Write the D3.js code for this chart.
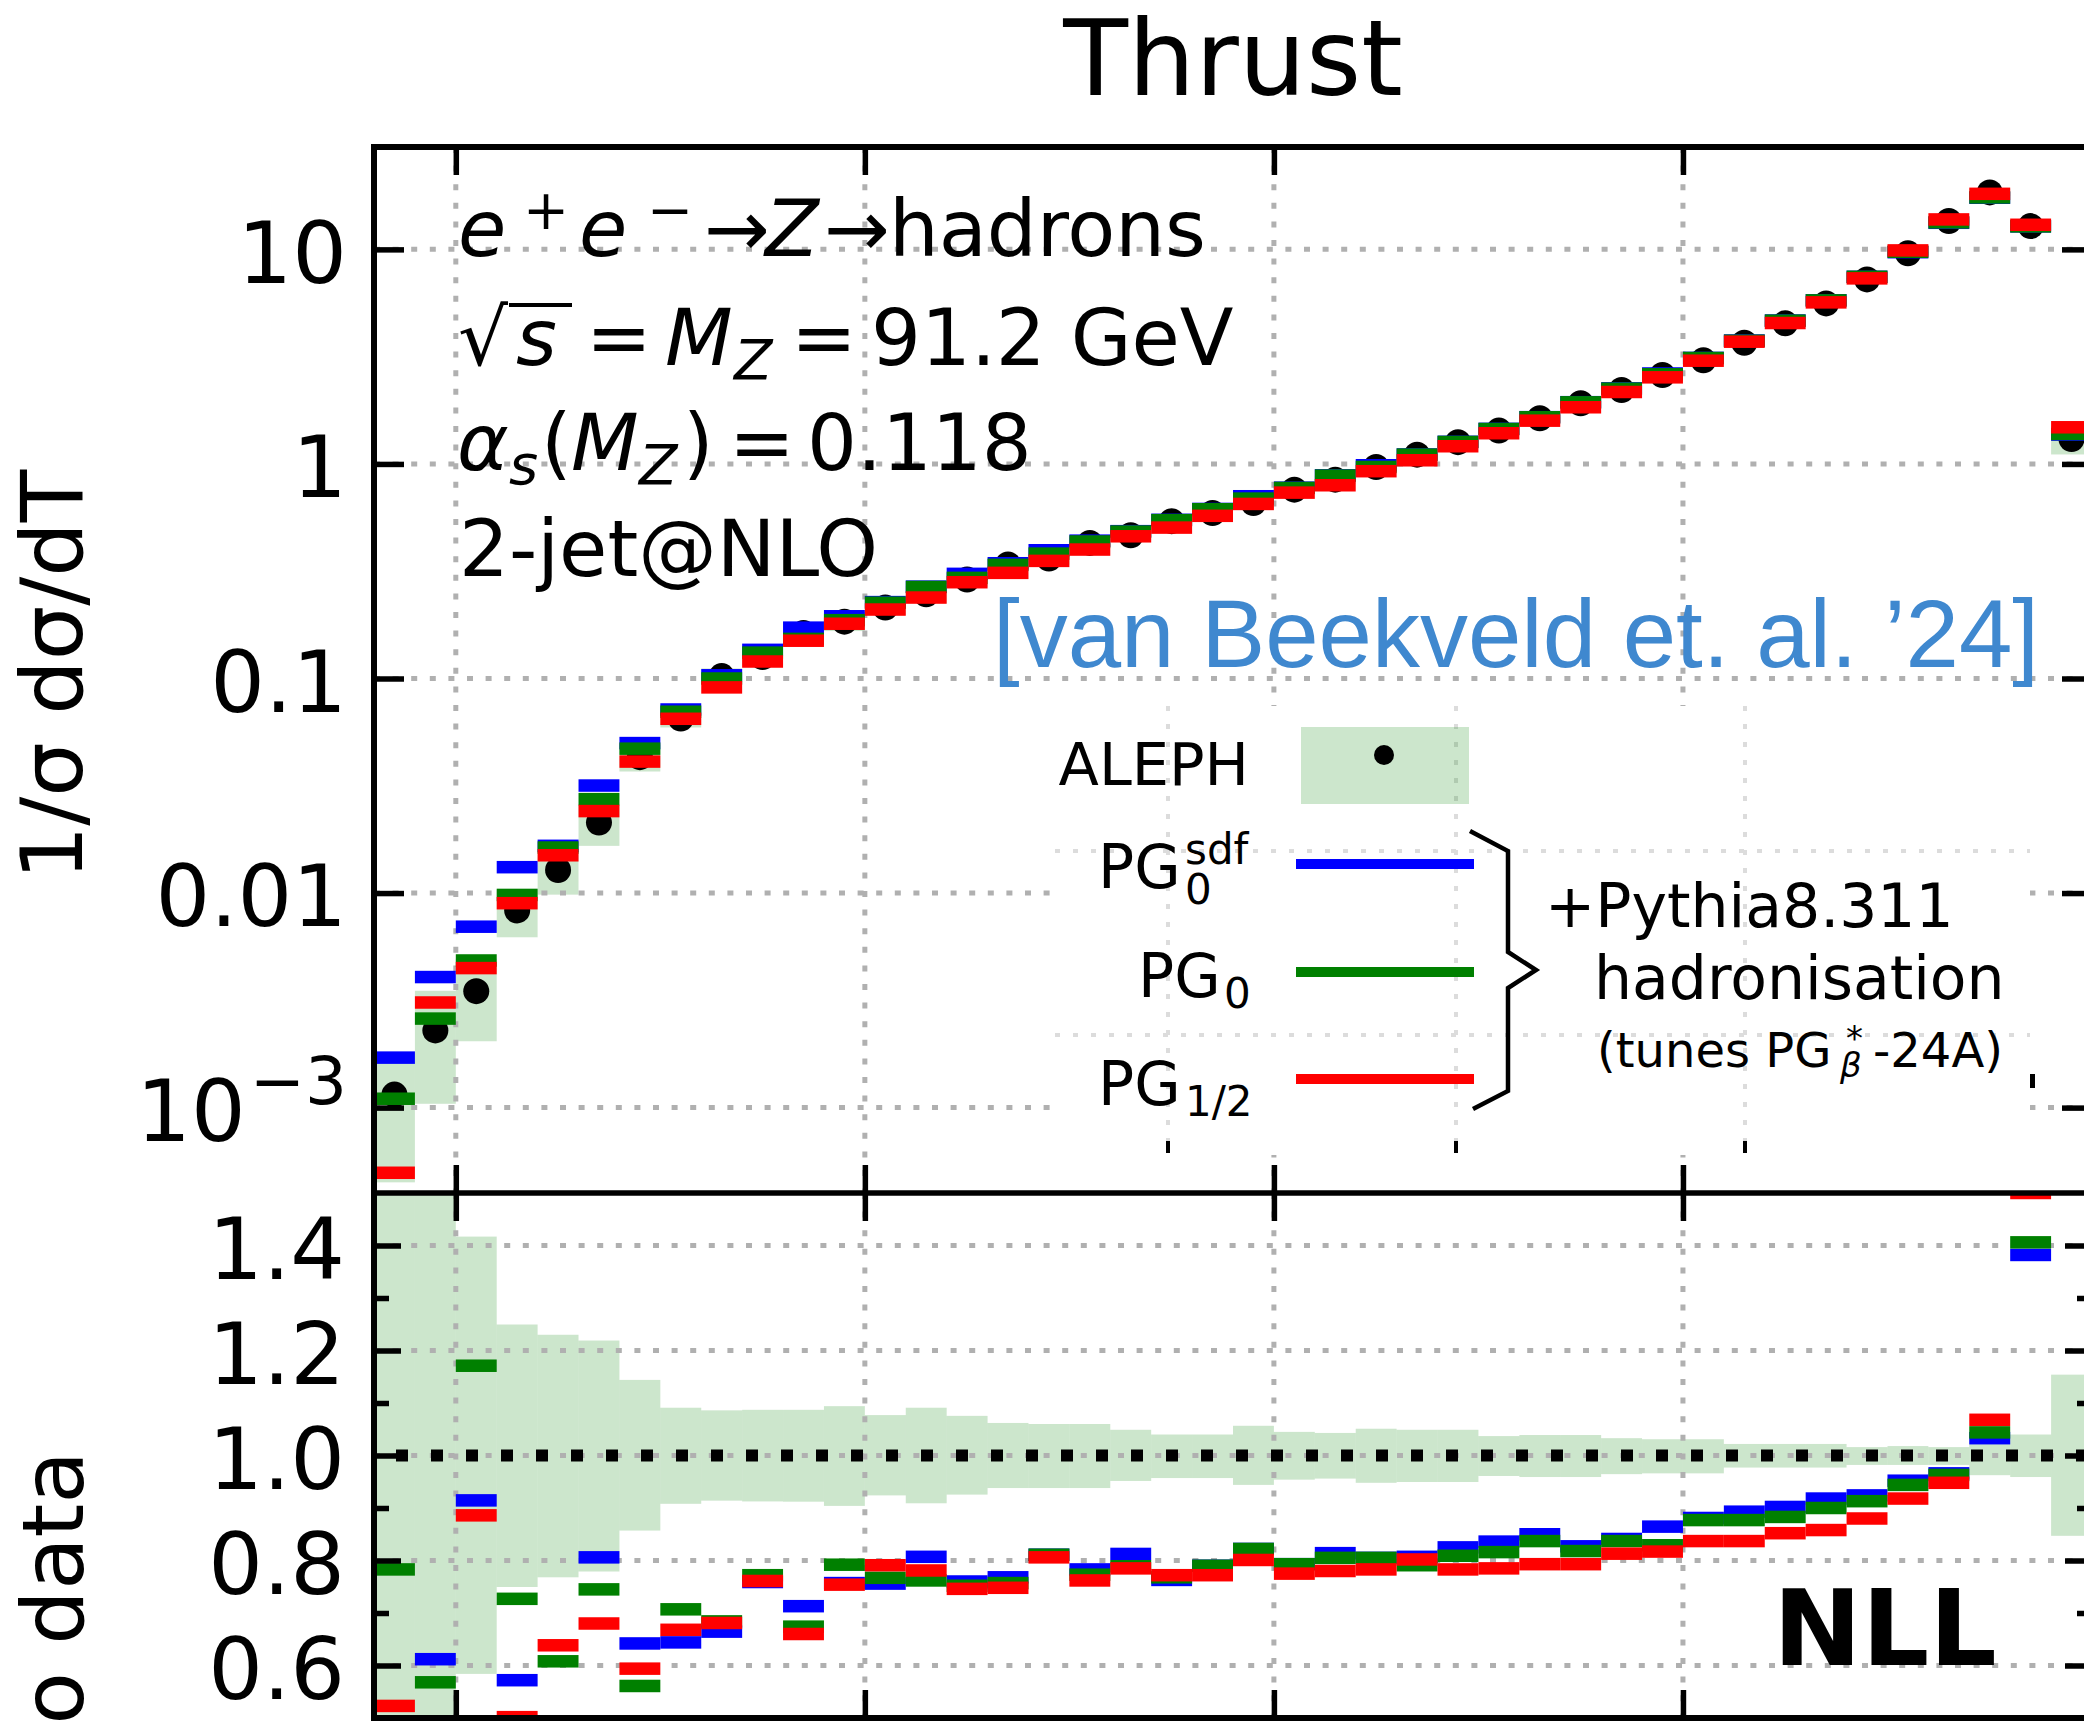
<!DOCTYPE html>
<html>
<head>
<meta charset="utf-8">
<script src="https://cdn.jsdelivr.net/npm/d3@7"></script>
<style>
  body { margin: 0; background: #fff; }
  svg { display: block; }
  text { font-family: "DejaVu Sans", sans-serif; }
</style>
</head>
<body>
<div id="chart"></div>
<script>
var W = 2084, H = 1726;

// thrust bins, width 0.01
var binEdges = [0.58,0.59,0.60,0.61,0.62,0.63,0.64,0.65,0.66,0.67,0.68,0.69,0.70,0.71,0.72,0.73,0.74,0.75,0.76,0.77,0.78,
  0.79,0.80,0.81,0.82,0.83,0.84,0.85,0.86,0.87,0.88,0.89,0.90,0.91,0.92,0.93,0.94,0.95,0.96,0.97,0.98,0.99,1.00];

// ALEPH data, 1/sigma dsigma/dT
var alephVal = [1.15e-3,2.29e-3,3.49e-3,8.3e-3,1.28e-2,2.13e-2,4.30e-2,6.51e-2,0.1026,0.1258,0.163,0.184,0.214,0.247,
  0.289,0.340,0.362,0.4285,0.4655,0.541,0.591,0.658,0.759,0.845,0.968,1.105,1.263,1.43,1.632,1.917,2.211,2.598,3.04,
  3.673,4.52,5.60,7.245,9.58,13.55,18.43,12.84,1.307];
// relative uncertainty band (upper / lower edge, as ratio to data)
var alephErrHi = [1.57,1.53,1.417,1.2495,1.230,1.219,1.144,1.091,1.086,1.087,1.087,1.094,1.077,1.091,1.0755,1.062,
  1.060,1.060,1.049,1.040,1.040,1.0566,1.045,1.043,1.051,1.049,1.049,1.037,1.039,1.039,1.033,1.031,1.031,1.022,1.022,
  1.022,1.016,1.018,1.016,1.040,1.040,1.154];
var alephErrLo = [0.39,0.455,0.584,0.7495,0.768,0.779,0.857,0.908,0.914,0.9125,0.912,0.904,0.924,0.909,0.9255,0.938,
  0.938,0.938,0.9515,0.957,0.957,0.944,0.954,0.956,0.948,0.9495,0.9495,0.961,0.959,0.959,0.9645,0.966,0.966,0.977,
  0.977,0.977,0.982,0.982,0.982,0.9625,0.959,0.847];

// 2-jet@NLO + Pythia hadronisation, upper panel
var pgSdf = [1.71e-3,4.06e-3,6.97e-3,1.32e-2,1.66e-2,3.17e-2,5.0e-2,7.17e-2,0.1035,0.136,0.1726,0.195,0.227,0.268,
  0.3074,0.3445,0.396,0.439,0.486,0.549,0.617,0.707,0.775,0.885,0.986,1.107,1.268,1.457,1.652,1.94,2.25,2.64,3.12,
  3.76,4.66,5.79,7.45,9.70,13.3,17.4,12.8,1.37];
var pg0 = [1.10e-3,2.60e-3,4.85e-3,9.8e-3,1.63e-2,2.74e-2,4.71e-2,7.0e-2,0.100,0.132,0.153,0.187,0.2255,0.267,0.2944,
  0.3386,0.382,0.435,0.484,0.547,0.615,0.6895,0.773,0.8825,0.968,1.105,1.266,1.455,1.650,1.937,2.243,2.617,3.117,
  3.75,4.652,5.784,7.45,9.75,13.36,17.46,12.8,1.379];
var pgHalf = [4.97e-4,3.09e-3,4.47e-3,8.97e-3,1.50e-2,2.41e-2,4.10e-2,6.49e-2,9.09e-2,0.120,0.150,0.180,0.2096,0.2384,
  0.281,0.3107,0.3533,0.399,0.460,0.505,0.573,0.651,0.735,0.7955,0.925,1.04,1.209,1.39,1.591,1.837,2.164,2.533,3.028,
  3.713,4.537,5.662,7.325,9.89,13.79,18.15,13.02,1.482];

// NLL ratio to data, lower panel (null = outside the panel)
var ratioSdf = [null,0.612,0.9145,0.572,null,0.806,0.642,0.644,0.6645,0.759,0.713,0.757,0.756,0.807,0.760,0.768,0.811,
  0.783,0.8125,0.763,0.79,0.822,0.793,0.814,0.805,0.807,0.825,0.836,0.850,0.827,0.841,0.8645,0.881,0.893,0.902,0.918,
  0.924,0.952,0.966,1.033,1.382,null];
var ratioPg0 = [0.783,0.568,1.171,0.727,0.608,0.745,0.561,0.707,0.684,0.772,0.674,0.792,0.767,0.762,0.752,0.757,0.811,
  0.773,0.789,0.768,0.790,0.822,0.793,0.805,0.805,0.791,0.809,0.816,0.837,0.818,0.837,0.829,0.877,0.877,0.883,0.900,
  0.913,0.944,0.963,1.044,1.406,null];
var ratioHalf = [0.523,null,0.886,0.5016,0.6385,0.680,0.594,0.668,0.681,0.761,0.660,0.754,0.791,0.781,0.746,0.748,0.806,
  0.762,0.785,0.772,0.772,0.801,0.775,0.780,0.783,0.802,0.783,0.785,0.793,0.793,0.813,0.817,0.837,0.837,0.852,0.858,
  0.880,0.918,0.948,1.068,1.50,null];

var xTicks = [0.6, 0.7, 0.8, 0.9, 1.0];
var yTicksTop = [1e-3, 1e-2, 0.1, 1, 10];
var yTickLabelsTop = ["10^−3", "0.01", "0.1", "1", "10"];
var rTicks = [0.6, 0.8, 1.0, 1.2, 1.4];
var rMinorTicks = [0.7, 0.9, 1.1, 1.3];

var colors = { sdf: "#0000ff", pg0: "#008000", half: "#ff0000", band: "#008000", grid: "#b0b0b0", cite: "#3f88cf" };

var plotL = 374, plotR = 2092, topT = 147, topB = 1193, ratB = 1718;

var x = d3.scaleLinear().domain([0.58, 1.0]).range([plotL, plotR]);
var yTop = d3.scaleLog().domain([4e-4, 30]).range([topB, topT]);
var yRat = d3.scaleLinear().domain([0.5, 1.5]).range([ratB, topB]);

var svg = d3.select("#chart").append("svg")
  .attr("width", W).attr("height", H)
  .attr("viewBox", "0 0 " + W + " " + H);

svg.append("rect").attr("width", W).attr("height", H).attr("fill", "#fff");

var defs = svg.append("defs");
defs.append("clipPath").attr("id", "clipTop").append("rect")
  .attr("x", plotL).attr("y", topT).attr("width", plotR - plotL).attr("height", topB - topT);
defs.append("clipPath").attr("id", "clipRat").append("rect")
  .attr("x", plotL).attr("y", topB).attr("width", plotR - plotL).attr("height", ratB - topB);

var bins = alephVal.map(function(v, i) {
  return { i: i, lo: binEdges[i], hi: binEdges[i + 1], v: v, eh: alephErrHi[i], el: alephErrLo[i] };
});

function gridLines(g, yScale, yVals, y0, y1) {
  g.selectAll(".hgrid").data(yVals).enter().append("line")
    .attr("x1", plotL).attr("x2", plotR)
    .attr("y1", function(d) { return yScale(d); }).attr("y2", function(d) { return yScale(d); })
    .attr("stroke", colors.grid).attr("stroke-width", 5).attr("stroke-dasharray", "6 12.6");
  g.selectAll(".vgrid").data(xTicks.slice(0, 4)).enter().append("line")
    .attr("x1", function(d) { return x(d); }).attr("x2", function(d) { return x(d); })
    .attr("y1", y0).attr("y2", y1)
    .attr("stroke", colors.grid).attr("stroke-width", 5).attr("stroke-dasharray", "6 12.6");
}

function steps(g, values, yScale, color) {
  g.selectAll(null).data(values.map(function(v, i) { return { i: i, v: v }; })
      .filter(function(d) { return d.v !== null; }))
    .enter().append("rect")
    .attr("x", function(d) { return x(binEdges[d.i]); })
    .attr("width", function(d) { return x(binEdges[d.i + 1]) - x(binEdges[d.i]); })
    .attr("y", function(d) { return yScale(d.v) - 6.25; })
    .attr("height", 12.5)
    .attr("fill", color);
}

// ---------- upper panel ----------
var topG = svg.append("g");
var topData = topG.append("g").attr("clip-path", "url(#clipTop)");

topData.selectAll(".band").data(bins).enter().append("rect")
  .attr("x", function(d) { return x(d.lo); })
  .attr("width", function(d) { return x(d.hi) - x(d.lo); })
  .attr("y", function(d) { return yTop(d.v * d.eh); })
  .attr("height", function(d) { return yTop(d.v * d.el) - yTop(d.v * d.eh); })
  .attr("fill", colors.band).attr("fill-opacity", 0.2);

gridLines(topData, yTop, yTicksTop, topT, topB);

// legend area hides the main grid
topG.append("rect").attr("x", 1052).attr("y", 706).attr("width", 978).attr("height", 449).attr("fill", "#fff");

topData.selectAll(".dot").data(bins).enter().append("circle")
  .attr("cx", function(d) { return x((d.lo + d.hi) / 2); })
  .attr("cy", function(d) { return yTop(d.v); })
  .attr("r", 13).attr("fill", "#000");

steps(topData, pgSdf, yTop, colors.sdf);
steps(topData, pg0, yTop, colors.pg0);
steps(topData, pgHalf, yTop, colors.half);

// ---------- ratio panel ----------
var ratG = svg.append("g");
var ratData = ratG.append("g").attr("clip-path", "url(#clipRat)");

ratData.selectAll(".band").data(bins).enter().append("rect")
  .attr("x", function(d) { return x(d.lo); })
  .attr("width", function(d) { return x(d.hi) - x(d.lo); })
  .attr("y", function(d) { return yRat(d.eh); })
  .attr("height", function(d) { return yRat(d.el) - yRat(d.eh); })
  .attr("fill", colors.band).attr("fill-opacity", 0.2);

gridLines(ratData, yRat, rTicks, topB, ratB);

ratData.append("line")
  .attr("x1", plotL).attr("x2", plotR).attr("y1", yRat(1)).attr("y2", yRat(1))
  .attr("stroke", "#000").attr("stroke-width", 12)
  .attr("stroke-dasharray", "12 23").attr("stroke-dashoffset", 13);

steps(ratData, ratioSdf, yRat, colors.sdf);
steps(ratData, ratioPg0, yRat, colors.pg0);
steps(ratData, ratioHalf, yRat, colors.half);

// ---------- axes ----------
function styleAxis(g, w) {
  g.select(".domain").remove();
  g.selectAll(".tick line").attr("stroke", "#000").attr("stroke-width", w);
  g.selectAll(".tick text").style("font-family", "DejaVu Sans").style("font-size", "86px").style("fill", "#000");
}

var axL = svg.append("g").attr("transform", "translate(" + plotL + ",0)")
  .call(d3.axisLeft(yTop).tickValues(yTicksTop).tickSize(-30).tickPadding(27)
    .tickFormat(function(d, i) { return yTickLabelsTop[i]; }));
styleAxis(axL, 5.5);
axL.selectAll(".tick text").attr("dy", "0.38em").each(function() {
  var t = d3.select(this), s = t.text();
  if (s.indexOf("^") >= 0) {
    var parts = s.split("^");
    t.text(null);
    t.append("tspan").text(parts[0]);
    t.append("tspan").style("font-size", "66px").attr("dx", 4).attr("dy", -37).text(parts[1]);
  }
});
var axR = svg.append("g").attr("transform", "translate(" + plotR + ",0)")
  .call(d3.axisRight(yTop).tickValues(yTicksTop).tickSize(-30).tickFormat(""));
styleAxis(axR, 5.5);

var axRL = svg.append("g").attr("transform", "translate(" + plotL + ",0)")
  .call(d3.axisLeft(yRat).tickValues(rTicks).tickSize(-27).tickPadding(29).tickFormat(d3.format(".1f")));
styleAxis(axRL, 5.5);
axRL.selectAll(".tick text").attr("dy", "0.38em");
var axRLm = svg.append("g").attr("transform", "translate(" + plotL + ",0)")
  .call(d3.axisLeft(yRat).tickValues(rMinorTicks).tickSize(-15).tickFormat(""));
styleAxis(axRLm, 5.5);
var axRR = svg.append("g").attr("transform", "translate(" + plotR + ",0)")
  .call(d3.axisRight(yRat).tickValues(rTicks).tickSize(-27).tickFormat(""));
styleAxis(axRR, 5.5);
var axRRm = svg.append("g").attr("transform", "translate(" + plotR + ",0)")
  .call(d3.axisRight(yRat).tickValues(rMinorTicks).tickSize(-15).tickFormat(""));
styleAxis(axRRm, 5.5);

// x ticks pointing into each panel
[[topT, "top"], [topB, "bottom"], [topB, "top"], [ratB, "bottom"]].forEach(function(a) {
  var ax = a[1] === "top" ? d3.axisBottom(x) : d3.axisTop(x);
  var g = svg.append("g").attr("transform", "translate(0," + a[0] + ")")
    .call(ax.tickValues(xTicks).tickSize(28).tickFormat(""));
  styleAxis(g, 5.5);
});

svg.append("rect").attr("x", plotL).attr("y", topT).attr("width", plotR - plotL).attr("height", ratB - topT)
  .attr("fill", "none").attr("stroke", "#000").attr("stroke-width", 6);
svg.append("line").attr("x1", plotL).attr("x2", plotR).attr("y1", topB).attr("y2", topB)
  .attr("stroke", "#000").attr("stroke-width", 5.5);

// ---------- texts ----------
svg.append("text").attr("x", (plotL + plotR) / 2).attr("y", 95).attr("text-anchor", "middle")
  .style("font-size", "106px").text("Thrust");

svg.append("text").attr("transform", "translate(82,675) rotate(-90)").attr("text-anchor", "middle")
  .style("font-size", "86px").text("1/σ dσ/dT");
svg.append("text").attr("transform", "translate(83,1451) rotate(-90)").attr("text-anchor", "end")
  .style("font-size", "86px").text("Ratio to data");

function mathLine(baseY, size, pieces) {
  pieces.forEach(function(p) {
    svg.append("text")
      .attr("x", p.x).attr("y", baseY + (p.dy || 0))
      .style("font-size", (p.s || size) + "px")
      .style("font-style", p.it ? "italic" : "normal")
      .text(p.t);
  });
}

var mSize = 78.5;
mathLine(256, mSize, [
  { t: "e", x: 458, it: true }, { t: "+", x: 523, s: 55, dy: -27 },
  { t: "e", x: 579, it: true }, { t: "−", x: 647, s: 55, dy: -27 },
  { t: "→", x: 704 }, { t: "Z", x: 765, it: true }, { t: "→", x: 824 },
  { t: "hadrons", x: 889 }
]);
mathLine(365, mSize, [
  { t: "√", x: 458 }, { t: "s", x: 516, it: true }, { t: "=", x: 586 },
  { t: "M", x: 665, it: true }, { t: "Z", x: 734, it: true, s: 56, dy: 14 },
  { t: "=", x: 791 }, { t: "91.2 GeV", x: 871 }
]);
svg.append("line").attr("x1", 509).attr("x2", 572).attr("y1", 305).attr("y2", 305)
  .attr("stroke", "#000").attr("stroke-width", 4);
mathLine(470, mSize, [
  { t: "α", x: 457, it: true }, { t: "s", x: 509, it: true, s: 56, dy: 14 },
  { t: "(", x: 541 }, { t: "M", x: 571, it: true }, { t: "Z", x: 639, it: true, s: 56, dy: 14 },
  { t: ")", x: 683 }, { t: "=", x: 729 }, { t: "0.118", x: 807 }
]);
mathLine(576, mSize, [{ t: "2-jet@NLO", x: 459 }]);

svg.append("text").attr("x", 993).attr("y", 667)
  .style("font-family", "Liberation Sans").style("font-size", "96px").style("fill", colors.cite)
  .text("[van Beekveld et. al. ’24]");

svg.append("text").attr("x", 1773).attr("y", 1665)
  .style("font-size", "106px").style("font-weight", "bold").text("NLL");

// ---------- legend (inset) ----------
var leg = svg.append("g");
[1168, 1456, 1745].forEach(function(gx) {
  leg.append("line").attr("x1", gx).attr("x2", gx).attr("y1", 706).attr("y2", 1141)
    .attr("stroke", "#dcdcdc").attr("stroke-width", 4).attr("stroke-dasharray", "5 13");
  leg.append("line").attr("x1", gx).attr("x2", gx).attr("y1", 1141).attr("y2", 1153)
    .attr("stroke", "#000").attr("stroke-width", 4);
});
[851, 1035].forEach(function(gy) {
  leg.append("line").attr("x1", 1055).attr("x2", 2030).attr("y1", gy).attr("y2", gy)
    .attr("stroke", "#dcdcdc").attr("stroke-width", 4).attr("stroke-dasharray", "5 13");
});
leg.append("rect").attr("x", 2030).attr("y", 1074).attr("width", 5).attr("height", 14).attr("fill", "#000");

leg.append("rect").attr("x", 1301).attr("y", 727).attr("width", 168).attr("height", 77)
  .attr("fill", colors.band).attr("fill-opacity", 0.2);
leg.append("circle").attr("cx", 1384).attr("cy", 755).attr("r", 10).attr("fill", "#000");
leg.append("text").attr("x", 1249).attr("y", 785).attr("text-anchor", "end").style("font-size", "59px").text("ALEPH");

var legLines = [
  { c: colors.sdf, y: 864 }, { c: colors.pg0, y: 972 }, { c: colors.half, y: 1079 }
];
legLines.forEach(function(l) {
  leg.append("line").attr("x1", 1296).attr("x2", 1474).attr("y1", l.y).attr("y2", l.y)
    .attr("stroke", l.c).attr("stroke-width", 10);
});

function legText(xp, yp, s, str) {
  leg.append("text").attr("x", xp).attr("y", yp).style("font-size", s + "px").text(str);
}
legText(1098, 888, 60, "PG"); legText(1185, 904, 42, "0"); legText(1185, 864, 42, "sdf");
legText(1138, 997, 60, "PG"); legText(1224, 1008, 42, "0");
legText(1098, 1105, 60, "PG"); legText(1185, 1116, 42, "1/2");

leg.append("path")
  .attr("d", "M1470,831 L1508,851 L1508,952 L1536,970 L1508,988 L1508,1091 L1473,1109")
  .attr("fill", "none").attr("stroke", "#000").attr("stroke-width", 4.5).attr("stroke-linejoin", "miter");

legText(1545, 927, 60, "+Pythia8.311");
legText(1594, 999, 60, "hadronisation");
legText(1597, 1067, 48, "(tunes PG");
leg.append("text").attr("x", 1846).attr("y", 1050).style("font-size", "34px").text("*");
leg.append("text").attr("x", 1840).attr("y", 1077).style("font-size", "34px").style("font-style", "italic").text("β");
legText(1873, 1067, 48, "-24A)");
</script>
</body>
</html>
